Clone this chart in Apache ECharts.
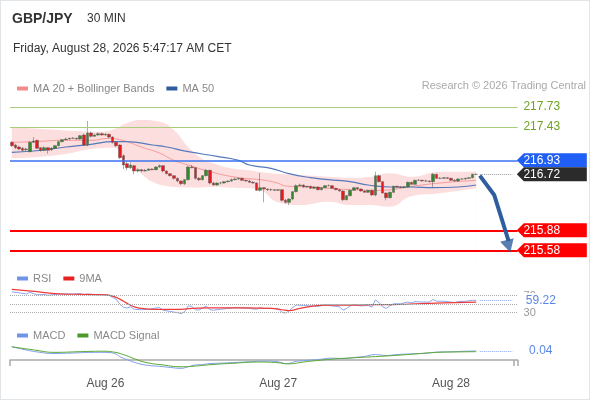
<!DOCTYPE html>
<html>
<head>
<meta charset="utf-8">
<script src="https://cdn.jsdelivr.net/npm/echarts@6/dist/echarts.min.js"></script>
<style>
  html, body { margin: 0; padding: 0; background: #fff; }
  #main { width: 590px; height: 400px; }
  #frame { position: absolute; left: 0; top: 0; width: 590px; height: 400px; box-sizing: border-box; border: 1px solid #e2e5e8; pointer-events: none; }
</style>
</head>
<body>
<div id="main"></div>
<div id="frame"></div>
<script>
// GBP/JPY 30 min candles: [open, close, low, high]
const candles = [
  [217.20, 217.15, 217.13, 217.22], [217.16, 217.12, 217.10, 217.18], [217.13, 217.10, 217.08, 217.15],
  [217.11, 217.08, 217.06, 217.13], [217.09, 217.10, 217.07, 217.12], [217.06, 217.20, 217.05, 217.22],
  [217.20, 217.22, 217.19, 217.28], [217.23, 217.11, 217.10, 217.24], [217.12, 217.08, 217.06, 217.13],
  [217.08, 217.12, 217.07, 217.14], [217.12, 217.08, 217.03, 217.13], [217.09, 217.11, 217.07, 217.13],
  [217.11, 217.15, 217.10, 217.16], [217.15, 217.21, 217.14, 217.22], [217.21, 217.24, 217.20, 217.25],
  [217.24, 217.25, 217.23, 217.27], [217.25, 217.26, 217.24, 217.27], [217.26, 217.26, 217.25, 217.28],
  [217.26, 217.25, 217.24, 217.27], [217.25, 217.30, 217.24, 217.31], [217.31, 217.16, 217.15, 217.33],
  [217.16, 217.34, 217.14, 217.52], [217.34, 217.29, 217.27, 217.36], [217.29, 217.31, 217.28, 217.33],
  [217.31, 217.33, 217.30, 217.35], [217.33, 217.31, 217.30, 217.35], [217.31, 217.32, 217.30, 217.34],
  [217.32, 217.28, 217.26, 217.33], [217.28, 217.20, 217.18, 217.29], [217.20, 217.15, 217.13, 217.21],
  [217.16, 216.97, 216.95, 217.17], [217.00, 216.86, 216.80, 217.02], [216.88, 216.82, 216.78, 216.92],
  [216.82, 216.86, 216.80, 216.90], [216.85, 216.77, 216.72, 216.86], [216.77, 216.79, 216.75, 216.81],
  [216.79, 216.77, 216.75, 216.80], [216.77, 216.78, 216.76, 216.80], [216.78, 216.80, 216.77, 216.81],
  [216.80, 216.79, 216.78, 216.81], [216.79, 216.83, 216.78, 216.84], [216.83, 216.85, 216.82, 216.87],
  [216.85, 216.77, 216.75, 216.86], [216.77, 216.73, 216.72, 216.78], [216.73, 216.70, 216.69, 216.74],
  [216.70, 216.66, 216.64, 216.71], [216.66, 216.62, 216.60, 216.67], [216.62, 216.58, 216.56, 216.63],
  [216.58, 216.64, 216.56, 216.65], [216.64, 216.83, 216.63, 216.85], [216.83, 216.82, 216.81, 216.86],
  [216.82, 216.66, 216.64, 216.83], [216.66, 216.64, 216.62, 216.68], [216.64, 216.70, 216.63, 216.71],
  [216.70, 216.78, 216.69, 216.80], [216.78, 216.59, 216.57, 216.79], [216.59, 216.56, 216.55, 216.61],
  [216.56, 216.59, 216.55, 216.60], [216.59, 216.59, 216.57, 216.61], [216.59, 216.61, 216.58, 216.62],
  [216.61, 216.62, 216.60, 216.63], [216.62, 216.64, 216.61, 216.66], [216.64, 216.65, 216.63, 216.67],
  [216.65, 216.66, 216.64, 216.67], [216.66, 216.63, 216.62, 216.67], [216.63, 216.62, 216.61, 216.64],
  [216.62, 216.60, 216.59, 216.64], [216.60, 216.59, 216.58, 216.62], [216.59, 216.48, 216.47, 216.60],
  [216.48, 216.52, 216.46, 216.74], [216.52, 216.50, 216.30, 216.53], [216.50, 216.49, 216.47, 216.51],
  [216.49, 216.49, 216.47, 216.51], [216.49, 216.48, 216.47, 216.50], [216.48, 216.49, 216.47, 216.50],
  [216.49, 216.33, 216.31, 216.50], [216.33, 216.30, 216.28, 216.35], [216.30, 216.35, 216.26, 216.36],
  [216.35, 216.46, 216.33, 216.47], [216.46, 216.55, 216.45, 216.57], [216.55, 216.56, 216.54, 216.58],
  [216.56, 216.53, 216.52, 216.57], [216.53, 216.54, 216.52, 216.55], [216.54, 216.51, 216.50, 216.55],
  [216.51, 216.53, 216.50, 216.54], [216.53, 216.49, 216.48, 216.54], [216.49, 216.52, 216.48, 216.53],
  [216.52, 216.55, 216.51, 216.56], [216.55, 216.55, 216.54, 216.57], [216.55, 216.51, 216.50, 216.56],
  [216.51, 216.49, 216.48, 216.52], [216.49, 216.47, 216.46, 216.50], [216.47, 216.34, 216.32, 216.48],
  [216.34, 216.40, 216.33, 216.41], [216.40, 216.48, 216.39, 216.49], [216.48, 216.52, 216.47, 216.53],
  [216.52, 216.50, 216.49, 216.53], [216.50, 216.47, 216.46, 216.51], [216.47, 216.45, 216.44, 216.48],
  [216.45, 216.48, 216.44, 216.49], [216.48, 216.41, 216.40, 216.49], [216.41, 216.70, 216.39, 216.76],
  [216.70, 216.61, 216.60, 216.72], [216.61, 216.44, 216.43, 216.62], [216.44, 216.37, 216.33, 216.45],
  [216.37, 216.45, 216.36, 216.46], [216.45, 216.54, 216.44, 216.55], [216.54, 216.53, 216.52, 216.55],
  [216.53, 216.52, 216.51, 216.54], [216.52, 216.53, 216.51, 216.54], [216.53, 216.60, 216.52, 216.61],
  [216.60, 216.57, 216.56, 216.61], [216.57, 216.63, 216.56, 216.64], [216.63, 216.63, 216.62, 216.65],
  [216.63, 216.62, 216.61, 216.64], [216.62, 216.62, 216.61, 216.64], [216.62, 216.61, 216.60, 216.63],
  [216.61, 216.72, 216.53, 216.74], [216.72, 216.66, 216.65, 216.73], [216.66, 216.66, 216.65, 216.68],
  [216.66, 216.67, 216.65, 216.68], [216.67, 216.66, 216.65, 216.68], [216.66, 216.63, 216.62, 216.67],
  [216.63, 216.62, 216.61, 216.65], [216.62, 216.65, 216.61, 216.66], [216.65, 216.65, 216.64, 216.66],
  [216.65, 216.66, 216.64, 216.67], [216.66, 216.67, 216.65, 216.68], [216.67, 216.72, 216.66, 216.73],
  [216.72, 216.72, 216.71, 216.73]
];

// overlays as [bar index, value]
const ma20 = [[0, 217.20], [6, 217.21], [15, 217.23], [22, 217.23], [27, 217.26], [29, 217.25], [32, 217.21],
  [36, 217.13], [41, 217.04], [45, 216.93], [49, 216.86], [55, 216.76], [63, 216.67], [69, 216.64],
  [73, 216.60], [77, 216.54], [83, 216.53], [94, 216.49], [102, 216.48], [111, 216.54], [119, 216.59], [129, 216.63]];
const ma50 = [[0, 217.05], [6, 217.07], [15, 217.13], [22, 217.17], [28, 217.21], [32, 217.21], [39, 217.16],
  [43, 217.13], [49, 217.06], [57, 216.99], [63, 216.93], [66, 216.86], [72, 216.81], [77, 216.73],
  [83, 216.67], [88, 216.64], [94, 216.61], [99, 216.56], [105, 216.53], [111, 216.53], [117, 216.52],
  [124, 216.53], [129, 216.56]];
const bbUpper = [[0, 217.43], [13, 217.385], [24, 217.36], [28, 217.39], [32, 217.49], [36, 217.535],
  [41, 217.51], [45, 217.385], [49, 217.13], [52, 216.985], [56, 216.885], [61, 216.81], [66, 216.78],
  [71, 216.74], [80, 216.71], [88, 216.685], [94, 216.67], [100, 216.685], [105, 216.735], [111, 216.685],
  [119, 216.76], [129, 216.76]];
const bbLower = [[0, 216.96], [13, 217.01], [24, 217.11], [28, 217.12], [32, 216.93], [36, 216.73],
  [39, 216.61], [43, 216.545], [47, 216.525], [51, 216.52], [56, 216.53], [61, 216.52], [66, 216.51],
  [69, 216.485], [74, 216.30], [80, 216.26], [88, 216.31], [94, 216.26], [99, 216.26], [105, 216.235],
  [111, 216.39], [119, 216.435], [129, 216.51]];

const rsi = [[0, 79], [2, 77], [4, 74], [5, 78], [7, 72], [9, 73], [10, 71], [12, 73], [14, 74], [17, 74],
  [19, 75], [20, 72], [21, 74], [23, 73], [25, 73], [27, 71], [28, 66], [29, 62], [30, 50], [31, 43],
  [32, 41], [33, 44], [34, 38], [36, 37], [38, 38], [40, 41], [41, 42], [42, 36], [44, 33], [46, 30],
  [47, 28], [48, 32], [49, 46], [50, 45], [51, 37], [52, 36], [53, 41], [54, 46], [55, 37], [56, 36],
  [58, 38], [60, 40], [62, 42], [64, 41], [66, 40], [68, 38], [69, 42], [70, 40], [72, 40], [74, 40],
  [75, 31], [76, 29], [77, 34], [78, 42], [79, 48], [81, 47], [83, 46], [85, 45], [87, 48], [89, 46],
  [91, 44], [92, 36], [93, 40], [94, 46], [95, 49], [97, 46], [99, 47], [100, 43], [101, 60], [102, 54],
  [103, 44], [104, 40], [105, 46], [106, 51], [108, 51], [110, 55], [111, 53], [112, 56], [114, 55],
  [116, 55], [117, 61], [118, 57], [120, 57], [122, 55], [123, 54], [124, 56], [126, 57], [128, 59], [129, 59.22]];
const rsiMa = [[0, 85], [4, 82], [7, 79.5], [12, 75], [20, 73], [26, 72], [28, 69], [30, 62], [32, 52],
  [34, 44], [36, 40], [40, 38], [47, 38], [50, 40], [55, 41.5], [65, 41.5], [72, 40], [75, 37], [77, 35],
  [80, 40], [84, 46], [87, 48], [95, 48], [101, 49], [106, 49], [112, 51], [120, 53], [129, 55]];

const macd = [[0, 0.059], [3, 0.048], [7, 0.036], [12, 0.029], [17, 0.031], [23, 0.034], [27, 0.033],
  [29, 0.026], [30, 0.015], [32, 0.002], [35, -0.015], [38, -0.024], [41, -0.028], [44, -0.033],
  [47, -0.037], [49, -0.03], [51, -0.022], [53, -0.02], [55, -0.016], [58, -0.014], [62, -0.011],
  [66, -0.008], [70, -0.005], [73, -0.006], [75, -0.012], [76, -0.016], [77, -0.015], [79, -0.006],
  [81, -0.003], [85, 0.002], [89, 0.008], [92, 0.006], [95, 0.011], [98, 0.016], [101, 0.024],
  [102, 0.023], [104, 0.02], [107, 0.024], [112, 0.028], [116, 0.031], [118, 0.035], [121, 0.036],
  [126, 0.039], [129, 0.04]];
const macdSignal = [[0, 0.059], [6, 0.045], [12, 0.034], [19, 0.037], [25, 0.039], [28, 0.036],
  [31, 0.024], [34, 0.006], [37, -0.01], [42, -0.022], [47, -0.03], [51, -0.027], [55, -0.021],
  [62, -0.014], [68, -0.009], [73, -0.011], [77, -0.017], [81, -0.009], [85, -0.002], [89, 0.004],
  [95, 0.01], [101, 0.015], [108, 0.022], [113, 0.028], [118, 0.034], [124, 0.036], [129, 0.037]];

// levels and forecast
const resistLevels = [217.73, 217.43];
const pivotLevel = 216.93;
const lastPrice = 216.72;
const supportLevels = [215.88, 215.58];
const forecastPath = [[130, 216.70], [134.2, 216.41], [137.6, 215.72]];
const forecastHead = [[138.3, 215.64]];
const rsiLast = 59.22;
const macdLast = 0.04;

const dayLabels = ['Aug 26', 'Aug 27', 'Aug 28'];
const dayIndex = [26, 74, 122];
const slotCount = 141;

const categories = [];
for (let i = 0; i < slotCount; i++) {
  const k = dayIndex.indexOf(i);
  categories.push(k >= 0 ? dayLabels[k] : '');
}

const FONT = 'Arial, "Liberation Sans", sans-serif';
const TAG_PATH = 'path://M0,7 L7,0 L70,0 L70,14 L7,14 Z';

function tag(value, text, bg, fg) {
  return {
    coord: [140, value],
    symbol: TAG_PATH,
    symbolSize: [70, 14],
    symbolOffset: [36, 0],
    itemStyle: { color: bg },
    label: { show: true, formatter: text, position: 'inside', offset: [-10, 0], color: fg, fontSize: 12, fontFamily: FONT }
  };
}
function valueTag(value, text) {
  return {
    coord: [140, value],
    symbol: 'rect',
    symbolSize: [36, 14],
    symbolOffset: [26, 0],
    itemStyle: { color: '#fff' },
    label: { show: true, formatter: text, position: 'inside', offset: [-1, 0], color: '#5b86e5', fontSize: 12, fontFamily: FONT }
  };
}

const chart = echarts.init(document.getElementById('main'));
const gridLeft = 10, gridRight = 72.4;

const hiddenX = (idx) => ({
  type: 'category', gridIndex: idx, data: categories, boundaryGap: true,
  axisLine: { show: false }, axisTick: { show: false }, axisLabel: { show: false }, splitLine: { show: false }
});

const option = {
  animation: false,
  textStyle: { fontFamily: FONT },
  graphic: [
    { type: 'text', left: 12, top: 12, style: { text: 'GBP/JPY', font: 'bold 14px ' + FONT, fill: '#333' } },
    { type: 'text', left: 87, top: 13, style: { text: '30 MIN', font: '12px ' + FONT, fill: '#333' } },
    { type: 'text', left: 13, top: 43, style: { text: 'Friday, August 28, 2026 5:47:17 AM CET', font: '12px ' + FONT, fill: '#333' } },
    { type: 'text', right: 4, top: 80, style: { text: 'Research \u00a9 2026 Trading Central', font: '11px ' + FONT, fill: '#aaa' } }
  ],
  legend: [
    { data: ['MA 20 + Bollinger Bands', 'MA 50'], left: 12, top: 78, icon: 'rect', itemWidth: 11, itemHeight: 4, itemGap: 12,
      textStyle: { color: '#888', fontSize: 11 } },
    { data: ['RSI', '9MA'], left: 12, top: 268, icon: 'rect', itemWidth: 11, itemHeight: 4, itemGap: 12,
      textStyle: { color: '#888', fontSize: 11 } },
    { data: ['MACD', 'MACD Signal'], left: 12, top: 325, icon: 'rect', itemWidth: 11, itemHeight: 4, itemGap: 12,
      textStyle: { color: '#888', fontSize: 11 } }
  ],
  grid: [
    { left: gridLeft, right: gridRight, top: 95, height: 165 },
    { left: gridLeft, right: gridRight, top: 287.2, height: 29.75 },
    { left: gridLeft, right: gridRight, top: 342, height: 27 }
  ],
  xAxis: [
    hiddenX(0),
    hiddenX(1),
    {
      type: 'category', gridIndex: 2, data: categories, boundaryGap: true, offset: 2,
      axisLine: { show: true, lineStyle: { color: '#aaa', width: 1.5 } },
      axisTick: { show: true, inside: false, length: 6, interval: (i) => i === 0 || i >= slotCount - 1, lineStyle: { color: '#aaa', width: 1.5 } },
      axisLabel: { show: true, interval: (i) => dayIndex.indexOf(i) >= 0, color: '#555', fontSize: 12, margin: 7 },
      splitLine: { show: false }
    }
  ],
  yAxis: [
    { type: 'value', gridIndex: 0, min: 215.435, max: 217.91, show: false, splitLine: { show: false } },
    { type: 'value', gridIndex: 1, min: 20, max: 90, interval: 10, position: 'right',
      axisLine: { show: false }, axisTick: { show: false }, splitLine: { show: false },
      axisLabel: { margin: 6, color: '#999', fontSize: 11, formatter: (v) => (v === 30 || v === 70 ? String(v) : '') } },
    { type: 'value', gridIndex: 2, min: -0.04, max: 0.08, show: false, splitLine: { show: false } }
  ],
  series: [
    { name: 'bbUpper', type: 'line', xAxisIndex: 0, yAxisIndex: 0, data: bbUpper, smooth: true, symbol: 'none',
      lineStyle: { width: 0 }, areaStyle: { color: '#fddede', opacity: 1, origin: 'start' }, z: 1, silent: true },
    { name: 'bbLower', type: 'line', xAxisIndex: 0, yAxisIndex: 0, data: bbLower, smooth: true, symbol: 'none',
      lineStyle: { width: 0 }, areaStyle: { color: '#ffffff', opacity: 1, origin: 'start' }, z: 1, silent: true },
    { name: 'MA 20 + Bollinger Bands', type: 'line', xAxisIndex: 0, yAxisIndex: 0, data: ma20, smooth: true, symbol: 'none',
      color: '#f48a8a', lineStyle: { width: 1, color: '#f59a9a' }, z: 3 },
    { name: 'MA 50', type: 'line', xAxisIndex: 0, yAxisIndex: 0, data: ma50, smooth: true, symbol: 'none',
      color: '#2e5c9e', lineStyle: { width: 1.2, color: '#5579bb' }, z: 3,
      markLine: {
        silent: true, symbol: ['none', 'none'], label: { show: false },
        data: [
          { yAxis: resistLevels[0], lineStyle: { color: '#a9cd7a', width: 1, type: 'solid' } },
          { yAxis: resistLevels[1], lineStyle: { color: '#a9cd7a', width: 1, type: 'solid' } },
          { yAxis: pivotLevel, lineStyle: { color: '#3a72f0', width: 1.5, type: 'solid' } },
          { yAxis: supportLevels[0], lineStyle: { color: '#ff0000', width: 2, type: 'solid' } },
          { yAxis: supportLevels[1], lineStyle: { color: '#ff0000', width: 2, type: 'solid' } },
          [{ coord: [130, lastPrice], lineStyle: { color: '#999', width: 1, type: 'dotted' } }, { coord: [139, lastPrice] }]
        ]
      },
      markPoint: {
        silent: true,
        data: [
          tag(resistLevels[0], '217.73', 'rgba(0,0,0,0)', '#6ea323'),
          tag(resistLevels[1], '217.43', 'rgba(0,0,0,0)', '#6ea323'),
          tag(pivotLevel, '216.93', '#1f5ff5', '#fff'),
          tag(lastPrice, '216.72', '#2b2b2b', '#fff'),
          tag(supportLevels[0], '215.88', '#ff0000', '#fff'),
          tag(supportLevels[1], '215.58', '#ff0000', '#fff')
        ]
      }
    },
    { name: 'GBP/JPY', type: 'candlestick', xAxisIndex: 0, yAxisIndex: 0, data: candles, barWidth: 3, z: 4,
      itemStyle: { color: '#2f8a2a', color0: '#e8191d', borderColor: '#5a5a5a', borderColor0: '#5a5a5a', borderWidth: 0.5 } },
    { name: 'forecast', type: 'lines', coordinateSystem: 'cartesian2d', xAxisIndex: 0, yAxisIndex: 0, polyline: true, z: 6,
      lineStyle: { color: '#2f5e9e', width: 4, opacity: 1 },
      data: [{ coords: forecastPath }] },
    { name: 'forecastHead', type: 'scatter', xAxisIndex: 0, yAxisIndex: 0, data: forecastHead, z: 6,
      symbol: 'triangle', symbolSize: [14, 13], symbolRotate: 195, itemStyle: { color: '#2f5e9e' }, silent: true },

    { name: 'RSI', type: 'line', xAxisIndex: 1, yAxisIndex: 1, data: rsi, symbol: 'none', color: '#6f93e8',
      lineStyle: { width: 1, color: '#8aa6ec' }, z: 3,
      markLine: {
        silent: true, symbol: ['none', 'none'], label: { show: false },
        lineStyle: { color: '#aaa', type: 'dotted', width: 1 },
        data: [{ yAxis: 70 }, { yAxis: 50 }, { yAxis: 30 },
          [{ coord: [130, rsiLast], lineStyle: { color: '#8aa6ec', type: 'dotted' } }, { coord: [139, rsiLast] }]]
      },
      markPoint: { silent: true, data: [valueTag(rsiLast, '59.22')] } },
    { name: '9MA', type: 'line', xAxisIndex: 1, yAxisIndex: 1, data: rsiMa, smooth: true, symbol: 'none', color: '#e82020',
      lineStyle: { width: 1.2, color: '#ee3a3a' }, z: 4 },

    { name: 'MACD', type: 'line', xAxisIndex: 2, yAxisIndex: 2, data: macd, smooth: true, symbol: 'none', color: '#6f93e8',
      lineStyle: { width: 1, color: '#7f9fe9' }, z: 3,
      markLine: {
        silent: true, symbol: ['none', 'none'], label: { show: false },
        data: [[{ coord: [130, macdLast], lineStyle: { color: '#8aa6ec', type: 'dotted', width: 1 } }, { coord: [139, macdLast] }]]
      },
      markPoint: { silent: true, data: [valueTag(macdLast, '0.04')] } },
    { name: 'MACD Signal', type: 'line', xAxisIndex: 2, yAxisIndex: 2, data: macdSignal, smooth: true, symbol: 'none',
      color: '#4c9a2a', lineStyle: { width: 1, color: '#5aa632' }, z: 4 }
  ]
};

chart.setOption(option);
</script>
</body>
</html>
